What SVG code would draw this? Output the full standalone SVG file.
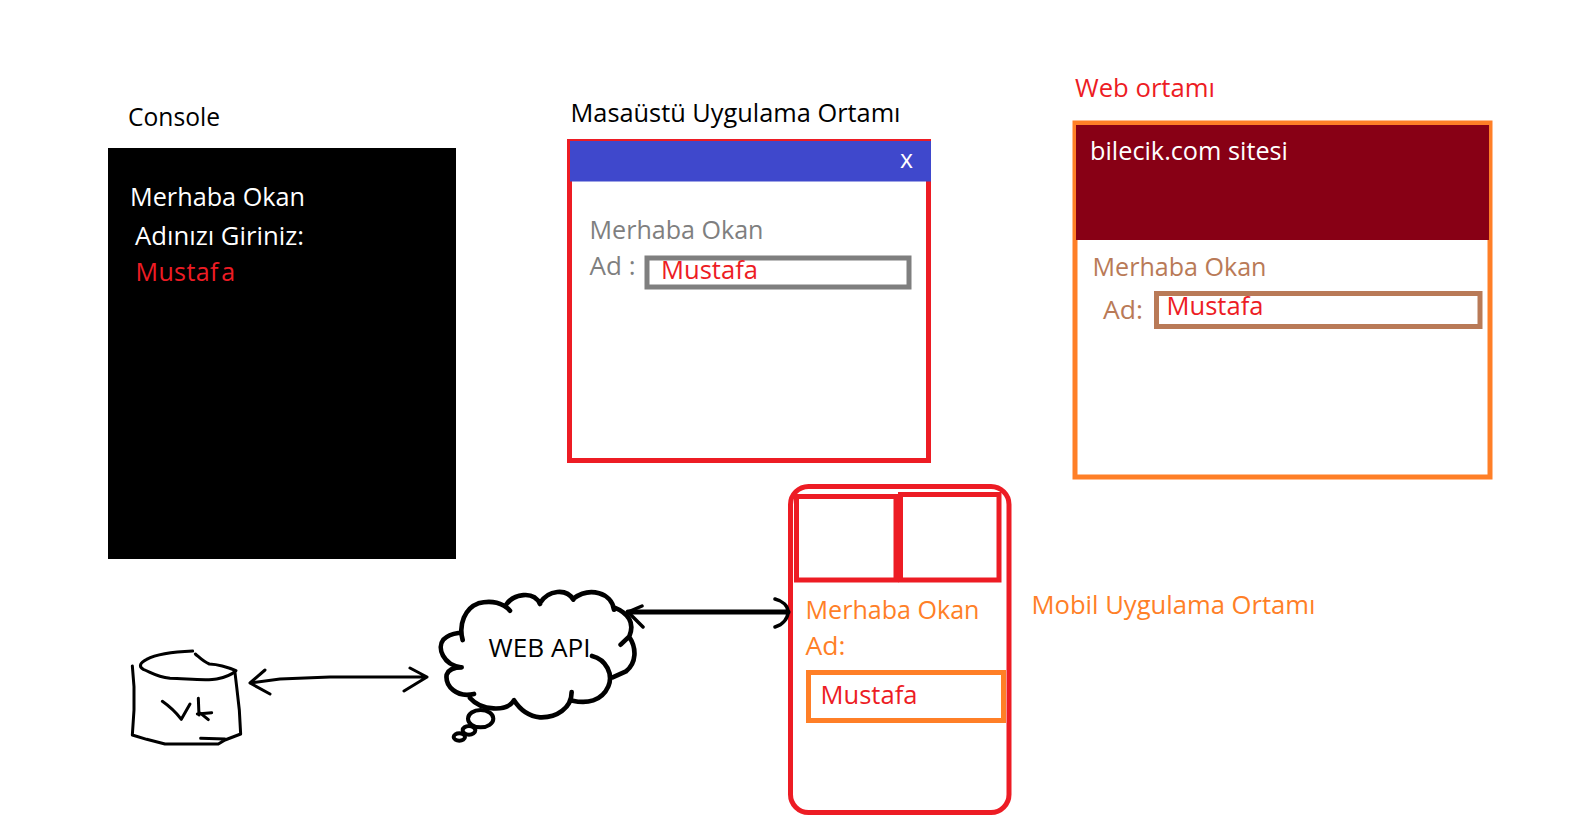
<svg xmlns="http://www.w3.org/2000/svg" width="1578" height="831" viewBox="0 0 1578 831">
<style>
text{font-family:"Open Sans","Noto Sans","Liberation Sans",sans-serif;font-size:25px}
.ink{fill:none;stroke:#000;stroke-linecap:round;stroke-linejoin:round}
.box{fill:none;stroke-width:5}
.red{fill:#ed1c24}.org{fill:#ff7f27}.blk{fill:#000}.wht{fill:#fff}
</style>
<rect width="1578" height="831" fill="#fff"/>
<g id="console">
<text x="128" y="126" class="blk" textLength="92" lengthAdjust="spacingAndGlyphs">Console</text>
<rect x="108" y="148" width="348" height="411" fill="#000"/>
<text x="130" y="206" class="wht" textLength="175" lengthAdjust="spacingAndGlyphs">Merhaba Okan</text>
<text x="135" y="245" class="wht" textLength="169" lengthAdjust="spacingAndGlyphs">Adınızı Giriniz:</text>
<text x="135.500" y="281" class="red" letter-spacing=".4">Mustaf<tspan dx="2.500">a</tspan></text>
</g>
<g id="desktop">
<text x="570.500" y="122" class="blk" textLength="330" lengthAdjust="spacingAndGlyphs">Masaüstü Uygulama Ortamı</text>
<rect x="569.500" y="141.500" width="359" height="319" class="box" stroke="#ed1c24"/>
<rect x="570" y="141" width="361" height="40.500" fill="#3f48cc"/>
<text x="900" y="168" class="wht" font-size="22" textLength="13" lengthAdjust="spacingAndGlyphs">x</text>
<text x="589.500" y="239" fill="#7f7f7f" textLength="174" lengthAdjust="spacingAndGlyphs">Merhaba Okan</text>
<text x="589.500" y="275" fill="#7f7f7f" textLength="46" lengthAdjust="spacingAndGlyphs">Ad :</text>
<rect x="647" y="258" width="262" height="29" class="box" stroke="#7f7f7f"/>
<text x="661" y="279" class="red" textLength="97" lengthAdjust="spacingAndGlyphs">Mustafa</text>
</g>
<g id="web">
<text x="1075" y="97" class="red" textLength="140" lengthAdjust="spacingAndGlyphs">Web ortamı</text>
<rect x="1075" y="123" width="415" height="354" class="box" stroke="#ff7f27"/>
<rect x="1076" y="125" width="413" height="115" fill="#880015"/>
<text x="1090" y="160" class="wht" textLength="198" lengthAdjust="spacingAndGlyphs">bilecik.com sitesi</text>
<text x="1092.500" y="276" fill="#b97a57" textLength="174" lengthAdjust="spacingAndGlyphs">Merhaba Okan</text>
<text x="1103" y="319" fill="#b97a57" textLength="40" lengthAdjust="spacingAndGlyphs">Ad:</text>
<rect x="1156.500" y="293.500" width="323.500" height="33" class="box" stroke="#b97a57"/>
<text x="1166.500" y="315" class="red" textLength="97" lengthAdjust="spacingAndGlyphs">Mustafa</text>
</g>
<g id="mobile">
<rect x="790.500" y="486.500" width="218.500" height="326" rx="18" class="box" stroke="#ed1c24"/>
<rect x="796.500" y="496.500" width="99.500" height="83.500" class="box" stroke="#ed1c24"/>
<rect x="900.500" y="494.500" width="98.500" height="85.500" class="box" stroke="#ed1c24"/>
<rect x="896" y="494" width="5" height="88" class="red"/>
<text x="805.500" y="619" class="org" textLength="174" lengthAdjust="spacingAndGlyphs">Merhaba Okan</text>
<text x="805.500" y="655" class="org" textLength="40" lengthAdjust="spacingAndGlyphs">Ad:</text>
<rect x="808.500" y="672.500" width="195" height="48" class="box" stroke="#ff7f27"/>
<text x="820.500" y="704" class="red" textLength="97" lengthAdjust="spacingAndGlyphs">Mustafa</text>
<text x="1031.500" y="614" class="org" textLength="284" lengthAdjust="spacingAndGlyphs">Mobil Uygulama Ortamı</text>
</g>
<g id="vt" transform="translate(110 570) scale(.3333)">
<path class="ink" stroke-width="9" d="M248 243C200 245 140 252 110 268C90 278 85 290 100 298C125 308 140 320 180 325C230 326 290 333 320 327C345 322 365 315 378 302C350 290 320 283 298 282C280 275 268 262 256 252"/>
<path class="ink" stroke-width="9" d="M67 288L72 350L72 420L67 495L110 508L165 522L325 522L345 510L392 492L388 420L380 350L375 308M272 505L345 507"/>
<path class="ink" stroke-width="9" d="M157 394C180 410 200 430 214 448L240 402M265 385L267 435M262 432L305 428M272 430L295 449"/>
</g>
<g id="webapi">
<g transform="translate(420 568) scale(.3333)">
<path class="ink" stroke-width="14" d="M128 216C115 170 135 120 175 106C215 95 250 105 270 128M260 108C280 80 340 65 360 108M360 105C385 65 440 60 460 95M460 92C510 55 575 75 582 125M582 118C625 135 645 165 628 205L602 230M628 207C650 240 650 285 618 310L578 328M516 264C560 275 580 320 565 355C545 400 500 408 458 398M455 372C455 420 410 450 360 448C325 445 300 425 282 397M280 400C260 430 185 430 150 390M162 378C110 390 75 355 80 320C85 305 100 298 125 298M122 298C70 290 50 240 70 215C85 200 100 197 115 195"/>
<ellipse cx="182" cy="452" rx="38" ry="26" fill="none" stroke="#000" stroke-width="12"/>
<ellipse cx="147" cy="487" rx="19" ry="13" fill="none" stroke="#000" stroke-width="12"/>
<ellipse cx="118" cy="507" rx="17" ry="11" fill="none" stroke="#000" stroke-width="12"/>
</g>
<text x="488.500" y="657" class="blk" textLength="102" lengthAdjust="spacingAndGlyphs">WEB API</text>
</g>
<g id="connectors">
<path class="ink" stroke-width="3" d="M250 683L280 679L330 677L427 677M265 670L250 683L270 694M410 668L427 677L404 691"/>
<path class="ink" stroke-width="5" d="M628 612H788"/>
<path class="ink" stroke-width="3.500" d="M642 606L628 612L643 627M775 599C783 601 788 606 788 612C788 618 783 625 775 627"/>
</g>
</svg>
